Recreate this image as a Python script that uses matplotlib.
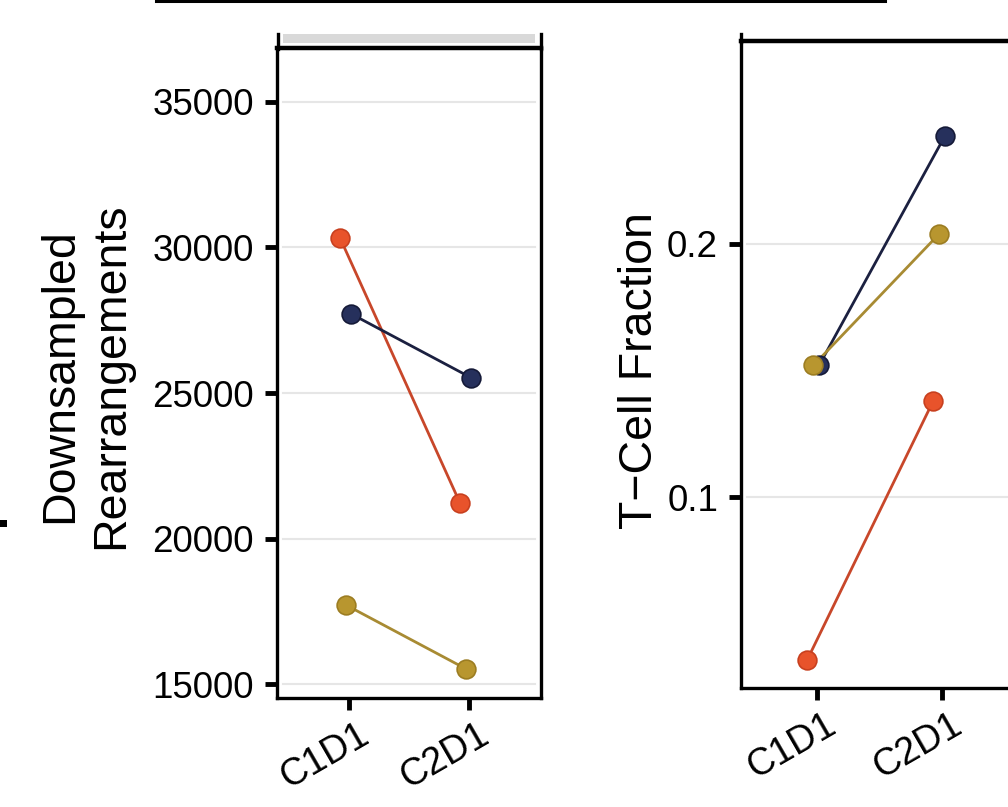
import matplotlib
matplotlib.use("Agg")
import matplotlib.pyplot as plt
from matplotlib.lines import Line2D
from matplotlib.patches import Rectangle
from matplotlib.transforms import ScaledTranslation

# data
timepoints = ["C1D1", "C2D1"]
subjects = ["orange", "navy", "gold"]
rearrangements = {
    "orange": [30330, 21220],
    "navy": [27714, 25520],
    "gold": [17715, 15520],
}
tcell_fraction = {
    "orange": [0.0358, 0.1378],
    "navy": [0.1520, 0.2425],
    "gold": [0.1520, 0.2039],
}
jitter = {"orange": -0.075, "navy": 0.02, "gold": -0.025}

fill_colors = {"orange": "#e8532b", "navy": "#26305c", "gold": "#b8962f"}
edge_colors = {"orange": "#c8401f", "navy": "#151a38", "gold": "#9c7d22"}
line_colors = {"orange": "#c8472a", "navy": "#1b2040", "gold": "#a88b33"}

W, H = 1008, 807
plt.rcParams['font.family'] = ['Liberation Sans', 'DejaVu Sans']

fig = plt.figure(figsize=(W / 100, H / 100), dpi=100)


def fx(px):
    return px / W


def fy(py):
    return 1 - py / H


def panel(left, right, top, bottom):
    return fig.add_axes([fx(left), fy(bottom), fx(right) - fx(left), fy(top) - fy(bottom)])


def draw_panel(ax, values, yticks, ylim, yfmt):
    ax.set_xlim(0.4, 2.6)
    ax.set_ylim(*ylim)
    for t in yticks:
        ax.axhline(t, xmin=0.022, xmax=0.978, color="#e6e6e6", lw=1.5, zorder=0)
    for s in subjects:
        xs = [i + 1 + jitter[s] for i in range(len(timepoints))]
        ax.plot(xs, values[s], color=line_colors[s], lw=2.0, zorder=2)
        ax.plot(xs, values[s], ls="none", marker="o", ms=13.5, mfc=fill_colors[s],
                mec=edge_colors[s], mew=1.2, zorder=3)
    ax.set_yticks(yticks)
    ax.set_yticklabels([yfmt(t) for t in yticks])
    ax.set_xticks([1, 2])
    ax.set_xticklabels(timepoints, rotation=30, ha="right", va="top", rotation_mode="anchor")
    ax.tick_params(axis="both", length=8.5, width=3.5, color="black")
    ax.tick_params(axis="y", pad=8, labelsize=26.5)
    ax.tick_params(axis="x", pad=5, labelsize=27)
    for lab in ax.get_xticklabels():
        lab.set_transform(lab.get_transform() + ScaledTranslation(0.08, 0, fig.dpi_scale_trans))
    for sp in ax.spines.values():
        sp.set_linewidth(2.4)
        sp.set_color("black")


# left panel
ax1 = panel(277, 541, 48, 698)
draw_panel(ax1, rearrangements, [15000, 20000, 25000, 30000, 35000], (14520, 36855),
           lambda t: "%d" % t)
ax1.spines["top"].set_linewidth(3.2)

# right panel (runs past the right edge)
ax2 = panel(741, 1018, 41, 688)
draw_panel(ax2, tcell_fraction, [0.1, 0.2], (0.0248, 0.2799), lambda t: "%.1f" % t)
ax2.spines["top"].set_linewidth(3.2)

# strip above left panel
fig.add_artist(Rectangle((fx(283), fy(43)), fx(535) - fx(283), fy(34) - fy(43),
                         transform=fig.transFigure, color="#d9d9d9", lw=0))
for x in (277.5, 540.5):
    fig.add_artist(Line2D([fx(x), fx(x)], [fy(34), fy(49)], transform=fig.transFigure,
                          color="black", lw=2.4))
fig.add_artist(Line2D([fx(741), fx(741)], [fy(34), fy(42)], transform=fig.transFigure,
                      color="black", lw=2.4))

# cropped remnants at the edges of the reference
fig.add_artist(Line2D([fx(156), fx(885)], [fy(1), fy(1)], transform=fig.transFigure,
                      color="black", lw=2.2))
fig.add_artist(Rectangle((fx(0), fy(527)), fx(7), fy(520) - fy(527),
                         transform=fig.transFigure, color="black", lw=0))

# axis titles
fig.text(fx(86), fy(376), "Downsampled\nRearrangements", rotation=90, ha="center",
         va="center", fontsize=33.5, linespacing=1.2)
fig.text(fx(640), fy(371), "T\u2212Cell Fraction", rotation=90, ha="center",
         va="center", fontsize=33.5)

fig.savefig("out.png", dpi=100)
